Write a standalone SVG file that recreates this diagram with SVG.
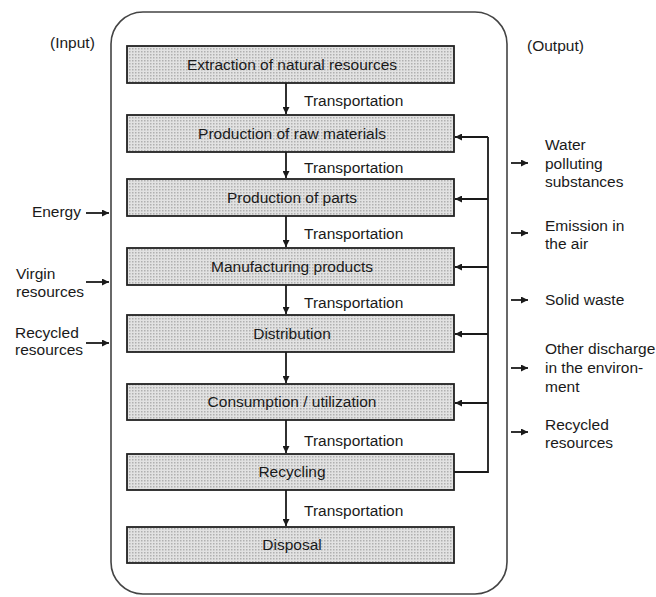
<svg xmlns="http://www.w3.org/2000/svg" width="656" height="597" viewBox="0 0 656 597">
  <style>
    text { font-family: "Liberation Sans", Arial, sans-serif; font-size: 15.5px; fill: #1a1a1a; }
    .mid { text-anchor: middle; }
    .end { text-anchor: end; }
    .box { fill: url(#dots); stroke: #222; stroke-width: 1.8; }
    .frame { fill: none; stroke: #444; stroke-width: 1.6; }
    .line { fill: none; stroke: #1a1a1a; stroke-width: 1.8; }
  </style>
  <defs>
    <pattern id="dots" width="3" height="3" patternUnits="userSpaceOnUse">
      <rect width="3" height="3" fill="#e2e2e2"/>
      <rect width="1.5" height="1.5" fill="#b0b0b0"/>
    </pattern>
    <marker id="ah" viewBox="0 0 10 10" refX="10" refY="5" markerWidth="10" markerHeight="7" markerUnits="userSpaceOnUse" orient="auto">
      <path d="M0,0 L10,5 L0,10 Z" fill="#1a1a1a"/>
    </marker>
  </defs>

  <rect width="656" height="597" fill="#fff"/>

  <!-- life-cycle frame -->
  <rect class="frame" x="111" y="12" width="396" height="582" rx="32" ry="32"/>

  <text x="50" y="48">(Input)</text>
  <text x="527" y="51">(Output)</text>

  <!-- stages -->
  <g id="extraction">
    <rect class="box" x="127" y="46" width="327" height="37"/>
    <text class="mid" x="292" y="70">Extraction of natural resources</text>
  </g>
  <g id="raw-materials">
    <rect class="box" x="127" y="115" width="327" height="37"/>
    <text class="mid" x="292" y="139">Production of raw materials</text>
  </g>
  <g id="parts">
    <rect class="box" x="127" y="179" width="327" height="37"/>
    <text class="mid" x="292" y="203">Production of parts</text>
  </g>
  <g id="manufacturing">
    <rect class="box" x="127" y="248" width="327" height="37"/>
    <text class="mid" x="292" y="272">Manufacturing products</text>
  </g>
  <g id="distribution">
    <rect class="box" x="127" y="315" width="327" height="37"/>
    <text class="mid" x="292" y="339">Distribution</text>
  </g>
  <g id="consumption">
    <rect class="box" x="127" y="384" width="327" height="36"/>
    <text class="mid" x="292" y="407">Consumption / utilization</text>
  </g>
  <g id="recycling">
    <rect class="box" x="127" y="454" width="327" height="36"/>
    <text class="mid" x="292" y="477">Recycling</text>
  </g>
  <g id="disposal">
    <rect class="box" x="127" y="527" width="327" height="36"/>
    <text class="mid" x="292" y="550">Disposal</text>
  </g>

  <!-- connectors -->
  <g id="connectors">
    <!-- stage to stage -->
    <line class="line" x1="286" y1="83" x2="286" y2="114" marker-end="url(#ah)"/>
    <line class="line" x1="286" y1="152" x2="286" y2="178" marker-end="url(#ah)"/>
    <line class="line" x1="286" y1="216" x2="286" y2="247" marker-end="url(#ah)"/>
    <line class="line" x1="286" y1="285" x2="286" y2="314" marker-end="url(#ah)"/>
    <line class="line" x1="286" y1="352" x2="286" y2="383" marker-end="url(#ah)"/>
    <line class="line" x1="286" y1="420" x2="286" y2="453" marker-end="url(#ah)"/>
    <line class="line" x1="286" y1="490" x2="286" y2="526" marker-end="url(#ah)"/>

    <!-- recycling loop -->
    <polyline class="line" points="454,472 488,472 488,137"/>
    <line class="line" x1="488" y1="137" x2="455" y2="137" marker-end="url(#ah)"/>
    <line class="line" x1="488" y1="199" x2="455" y2="199" marker-end="url(#ah)"/>
    <line class="line" x1="488" y1="267" x2="455" y2="267" marker-end="url(#ah)"/>
    <line class="line" x1="488" y1="334" x2="455" y2="334" marker-end="url(#ah)"/>
    <line class="line" x1="488" y1="403" x2="455" y2="403" marker-end="url(#ah)"/>

    <!-- inputs -->
    <line class="line" x1="86" y1="213" x2="109" y2="213" marker-end="url(#ah)"/>
    <line class="line" x1="86" y1="282" x2="109" y2="282" marker-end="url(#ah)"/>
    <line class="line" x1="86" y1="343" x2="109" y2="343" marker-end="url(#ah)"/>

    <!-- outputs -->
    <line class="line" x1="511" y1="163" x2="528" y2="163" marker-end="url(#ah)"/>
    <line class="line" x1="511" y1="233" x2="528" y2="233" marker-end="url(#ah)"/>
    <line class="line" x1="511" y1="300" x2="528" y2="300" marker-end="url(#ah)"/>
    <line class="line" x1="511" y1="368" x2="528" y2="368" marker-end="url(#ah)"/>
    <line class="line" x1="511" y1="432" x2="528" y2="432" marker-end="url(#ah)"/>
  </g>

  <!-- transport labels -->
  <g id="transport-labels">
    <text x="304" y="106">Transportation</text>
    <text x="304" y="173">Transportation</text>
    <text x="304" y="239">Transportation</text>
    <text x="304" y="308">Transportation</text>
    <text x="304" y="446">Transportation</text>
    <text x="304" y="516">Transportation</text>
  </g>

  <!-- input labels -->
  <g id="inputs">
    <text class="end" x="81" y="217">Energy</text>
    <text x="16" y="279">Virgin</text>
    <text x="16" y="297">resources</text>
    <text x="15" y="338">Recycled</text>
    <text x="15" y="355">resources</text>
  </g>

  <!-- output labels -->
  <g id="outputs">
    <text x="545" y="150">Water</text>
    <text x="545" y="169">polluting</text>
    <text x="545" y="187">substances</text>
    <text x="545" y="231">Emission in</text>
    <text x="545" y="249">the air</text>
    <text x="545" y="305">Solid waste</text>
    <text x="545" y="354">Other discharge</text>
    <text x="545" y="373">in the environ-</text>
    <text x="545" y="392">ment</text>
    <text x="545" y="430">Recycled</text>
    <text x="545" y="448">resources</text>
  </g>
</svg>
